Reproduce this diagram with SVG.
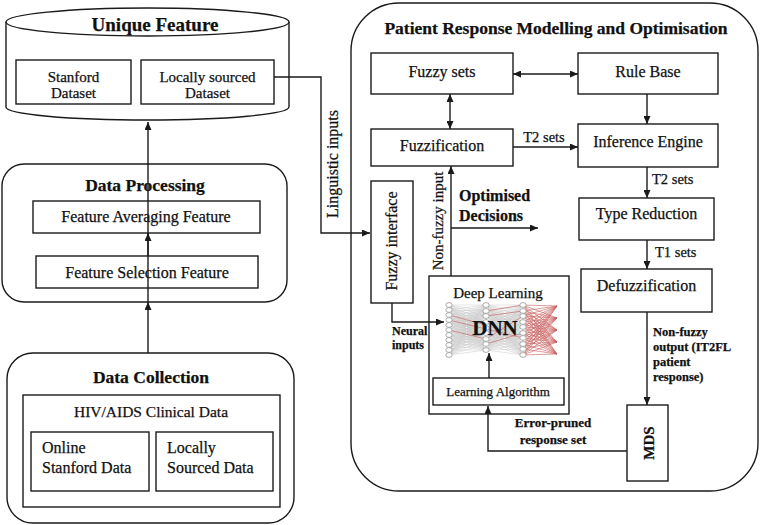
<svg xmlns="http://www.w3.org/2000/svg" width="761" height="525" viewBox="0 0 761 525">
<defs>
<style>
.b{fill:#fff;stroke:#1a1a1a;stroke-width:1.4}
.t{font-family:"Liberation Serif","Times New Roman",serif;fill:#111;stroke:#111;stroke-width:0.25}
.m{text-anchor:middle}
.bd{font-weight:bold}
.c{fill:none;stroke:#1a1a1a;stroke-width:1.4}
.g{fill:none;stroke:#c8c8c8;stroke-width:0.5}
.r{fill:none;stroke:#c85a5a;stroke-width:0.6}
.n{fill:#fff;stroke:#8a8a8a;stroke-width:0.7}
</style>
<marker id="ah" viewBox="0 0 8 7" refX="8" refY="3.5" markerWidth="8" markerHeight="7" markerUnits="userSpaceOnUse" orient="auto-start-reverse"><path d="M0,0L8,3.5L0,7z" fill="#1a1a1a"/></marker>
</defs>
<rect width="761" height="525" fill="#fff"/>

<!-- Unique Feature cylinder -->
<g id="unique-feature">
<path class="b" d="M6,22V107A141.5,13 0 0 0 289,107V22"/>
<ellipse class="b" cx="147.5" cy="22" rx="141.5" ry="14"/>
<text class="t m bd" x="155" y="31" font-size="19">Unique Feature</text>
<rect class="b" x="16" y="60" width="115" height="44"/>
<text class="t m" x="73.5" y="82" font-size="15">Stanford</text>
<text class="t m" x="73.5" y="98" font-size="15">Dataset</text>
<rect class="b" x="141" y="60" width="133" height="44"/>
<text class="t m" x="207.5" y="82" font-size="15">Locally sourced</text>
<text class="t m" x="207.5" y="98" font-size="15">Dataset</text>
</g>

<!-- Data Processing -->
<g id="data-processing">
<rect class="b" x="2" y="164" width="285" height="138" rx="22"/>
<text class="t m bd" x="145" y="191" font-size="17.5">Data Processing</text>
<rect class="b" x="33" y="201" width="227" height="32"/>
<text class="t m" x="146" y="222" font-size="16">Feature Averaging Feature</text>
<rect class="b" x="36" y="256" width="222" height="32"/>
<text class="t m" x="147" y="278" font-size="16">Feature Selection Feature</text>
</g>

<!-- Data Collection -->
<g id="data-collection">
<rect class="b" x="7" y="353" width="287" height="170" rx="26"/>
<text class="t m bd" x="151" y="383" font-size="17.5">Data Collection</text>
<rect class="b" x="23" y="395" width="257" height="112"/>
<text class="t m" x="151" y="417" font-size="15.5">HIV/AIDS Clinical Data</text>
<rect class="b" x="31" y="432" width="118" height="59"/>
<text class="t" x="42" y="453" font-size="16">Online</text>
<text class="t" x="42" y="473" font-size="16">Stanford Data</text>
<rect class="b" x="156" y="432" width="117" height="59"/>
<text class="t" x="167" y="453" font-size="16">Locally</text>
<text class="t" x="167" y="473" font-size="16">Sourced Data</text>
</g>

<!-- Patient Response Modelling container -->
<g id="patient-response">
<rect class="b" x="351" y="3" width="407" height="488" rx="48"/>
<text class="t m bd" x="556" y="34" font-size="17.5">Patient Response Modelling and Optimisation</text>
</g>

<g id="fuzzy-sets">
<rect class="b" x="371" y="53" width="142" height="41"/>
<text class="t m" x="442" y="77" font-size="16">Fuzzy sets</text>
</g>
<g id="rule-base">
<rect class="b" x="578" y="53" width="140" height="41"/>
<text class="t m" x="648" y="77" font-size="16">Rule Base</text>
</g>
<g id="fuzzification">
<rect class="b" x="371" y="129" width="142" height="37"/>
<text class="t m" x="442" y="151" font-size="16">Fuzzification</text>
</g>
<g id="inference-engine">
<rect class="b" x="578" y="124" width="140" height="43"/>
<text class="t m" x="648" y="147" font-size="16">Inference Engine</text>
</g>
<g id="type-reduction">
<rect class="b" x="579" y="198" width="135" height="42"/>
<text class="t m" x="646.5" y="219" font-size="16">Type Reduction</text>
</g>
<g id="defuzzification">
<rect class="b" x="581" y="269" width="131" height="43"/>
<text class="t m" x="646.5" y="291" font-size="16">Defuzzification</text>
</g>
<g id="mds">
<rect class="b" x="627" y="405" width="41" height="76"/>
<text class="t m bd" transform="translate(654,443) rotate(-90)" font-size="15">MDS</text>
</g>
<g id="fuzzy-interface">
<rect class="b" x="371" y="181" width="42" height="122"/>
<text class="t m" transform="translate(397,241) rotate(-90)" font-size="16">Fuzzy interface</text>
</g>

<g id="deep-learning">
<rect class="b" x="429" y="276" width="140" height="138"/>
<text class="t m" x="498" y="298" font-size="15">Deep Learning</text>
<path class="g" d="M486 305 449 305M486 305 449 310M486 305 449 315M486 305 449 320M486 305 449 325M486 305 449 330M486 305 449 335M486 305 449 340M486 305 449 345M486 305 449 350M486 305 449 355
M486 311 449 305M486 311 449 310M486 311 449 315M486 311 449 320M486 311 449 325M486 311 449 330M486 311 449 335M486 311 449 340M486 311 449 345M486 311 449 350M486 311 449 355
M486 316 449 305M486 316 449 310M486 316 449 315M486 316 449 320M486 316 449 325M486 316 449 330M486 316 449 335M486 316 449 340M486 316 449 345M486 316 449 350M486 316 449 355
M486 322 449 305M486 322 449 310M486 322 449 315M486 322 449 320M486 322 449 325M486 322 449 330M486 322 449 335M486 322 449 340M486 322 449 345M486 322 449 350M486 322 449 355
M486 328 449 305M486 328 449 310M486 328 449 315M486 328 449 320M486 328 449 325M486 328 449 330M486 328 449 335M486 328 449 340M486 328 449 345M486 328 449 350M486 328 449 355
M486 333 449 305M486 333 449 310M486 333 449 315M486 333 449 320M486 333 449 325M486 333 449 330M486 333 449 335M486 333 449 340M486 333 449 345M486 333 449 350M486 333 449 355
M486 339 449 305M486 339 449 310M486 339 449 315M486 339 449 320M486 339 449 325M486 339 449 330M486 339 449 335M486 339 449 340M486 339 449 345M486 339 449 350M486 339 449 355
M486 344 449 305M486 344 449 310M486 344 449 315M486 344 449 320M486 344 449 325M486 344 449 330M486 344 449 335M486 344 449 340M486 344 449 345M486 344 449 350M486 344 449 355
M486 350 449 305M486 350 449 310M486 350 449 315M486 350 449 320M486 350 449 325M486 350 449 330M486 350 449 335M486 350 449 340M486 350 449 345M486 350 449 350M486 350 449 355
M486 305 523 305M486 305 523 311M486 305 523 316M486 305 523 322M486 305 523 327M486 305 523 333M486 305 523 338M486 305 523 344M486 305 523 349M486 305 523 355
M486 311 523 305M486 311 523 311M486 311 523 316M486 311 523 322M486 311 523 327M486 311 523 333M486 311 523 338M486 311 523 344M486 311 523 349M486 311 523 355
M486 316 523 305M486 316 523 311M486 316 523 316M486 316 523 322M486 316 523 327M486 316 523 333M486 316 523 338M486 316 523 344M486 316 523 349M486 316 523 355
M486 322 523 305M486 322 523 311M486 322 523 316M486 322 523 322M486 322 523 327M486 322 523 333M486 322 523 338M486 322 523 344M486 322 523 349M486 322 523 355
M486 328 523 305M486 328 523 311M486 328 523 316M486 328 523 322M486 328 523 327M486 328 523 333M486 328 523 338M486 328 523 344M486 328 523 349M486 328 523 355
M486 333 523 305M486 333 523 311M486 333 523 316M486 333 523 322M486 333 523 327M486 333 523 333M486 333 523 338M486 333 523 344M486 333 523 349M486 333 523 355
M486 339 523 305M486 339 523 311M486 339 523 316M486 339 523 322M486 339 523 327M486 339 523 333M486 339 523 338M486 339 523 344M486 339 523 349M486 339 523 355
M486 344 523 305M486 344 523 311M486 344 523 316M486 344 523 322M486 344 523 327M486 344 523 333M486 344 523 338M486 344 523 344M486 344 523 349M486 344 523 355
M486 350 523 305M486 350 523 311M486 350 523 316M486 350 523 322M486 350 523 327M486 350 523 333M486 350 523 338M486 350 523 344M486 350 523 349M486 350 523 355"/>
<path class="r" d="M449 315 486 325M449 320 523 338M486 311 523 305M486 316 523 311M486 339 523 316M486 344 523 333M449 330 486 339
M523 305 557 306M523 305 557 318M523 305 557 330M523 305 557 342M523 305 557 354
M523 311 557 306M523 311 557 318M523 311 557 330M523 311 557 342M523 311 557 354
M523 316 557 306M523 316 557 318M523 316 557 330M523 316 557 342M523 316 557 354
M523 322 557 306M523 322 557 318M523 322 557 330M523 322 557 342M523 322 557 354
M523 327 557 306M523 327 557 318M523 327 557 330M523 327 557 342M523 327 557 354
M523 333 557 306M523 333 557 318M523 333 557 330M523 333 557 342M523 333 557 354
M523 338 557 306M523 338 557 318M523 338 557 330M523 338 557 342M523 338 557 354
M523 344 557 306M523 344 557 318M523 344 557 330M523 344 557 342M523 344 557 354
M523 349 557 306M523 349 557 318M523 349 557 330M523 349 557 342M523 349 557 354
M523 355 557 306M523 355 557 318M523 355 557 330M523 355 557 342M523 355 557 354"/>
<g class="n">
<ellipse cx="449" cy="305" rx="3.2" ry="2.4"/><ellipse cx="449" cy="310" rx="3.2" ry="2.4"/><ellipse cx="449" cy="315" rx="3.2" ry="2.4"/><ellipse cx="449" cy="320" rx="3.2" ry="2.4"/><ellipse cx="449" cy="325" rx="3.2" ry="2.4"/><ellipse cx="449" cy="330" rx="3.2" ry="2.4"/><ellipse cx="449" cy="335" rx="3.2" ry="2.4"/><ellipse cx="449" cy="340" rx="3.2" ry="2.4"/><ellipse cx="449" cy="345" rx="3.2" ry="2.4"/><ellipse cx="449" cy="350" rx="3.2" ry="2.4"/><ellipse cx="449" cy="355" rx="3.2" ry="2.4"/>
<ellipse cx="486" cy="305" rx="3.2" ry="2.4"/><ellipse cx="486" cy="311" rx="3.2" ry="2.4"/><ellipse cx="486" cy="316" rx="3.2" ry="2.4"/><ellipse cx="486" cy="322" rx="3.2" ry="2.4"/><ellipse cx="486" cy="328" rx="3.2" ry="2.4"/><ellipse cx="486" cy="333" rx="3.2" ry="2.4"/><ellipse cx="486" cy="339" rx="3.2" ry="2.4"/><ellipse cx="486" cy="344" rx="3.2" ry="2.4"/><ellipse cx="486" cy="350" rx="3.2" ry="2.4"/>
<ellipse cx="523" cy="305" rx="3.2" ry="2.4"/><ellipse cx="523" cy="311" rx="3.2" ry="2.4"/><ellipse cx="523" cy="316" rx="3.2" ry="2.4"/><ellipse cx="523" cy="322" rx="3.2" ry="2.4"/><ellipse cx="523" cy="327" rx="3.2" ry="2.4"/><ellipse cx="523" cy="333" rx="3.2" ry="2.4"/><ellipse cx="523" cy="338" rx="3.2" ry="2.4"/><ellipse cx="523" cy="344" rx="3.2" ry="2.4"/><ellipse cx="523" cy="349" rx="3.2" ry="2.4"/><ellipse cx="523" cy="355" rx="3.2" ry="2.4"/>
</g>
<text class="t m bd" x="495" y="335" font-size="21">DNN</text>
</g>
<g id="learning-algorithm">
<rect class="b" x="433" y="378" width="131" height="27"/>
<text class="t m" x="498" y="396" font-size="13">Learning Algorithm</text>
</g>

<!-- connectors -->
<g id="connectors">
<path class="c" d="M148,302V122" marker-end="url(#ah)"/>
<path class="c" d="M148,353V302" marker-end="url(#ah)"/>
<path class="c" d="M148,256V233" marker-end="url(#ah)"/>
<path class="c" d="M274,77H321V233H370" marker-end="url(#ah)"/>
<path class="c" d="M513,74H578" marker-start="url(#ah)" marker-end="url(#ah)"/>
<path class="c" d="M450,94V129" marker-start="url(#ah)" marker-end="url(#ah)"/>
<path class="c" d="M647,94V124" marker-end="url(#ah)"/>
<path class="c" d="M513,147H578" marker-end="url(#ah)"/>
<path class="c" d="M647,167V198" marker-end="url(#ah)"/>
<path class="c" d="M647,240V269" marker-end="url(#ah)"/>
<path class="c" d="M647,312V405" marker-end="url(#ah)"/>
<path class="c" d="M627,451H488V406" marker-end="url(#ah)"/>
<path class="c" d="M489,378V353" marker-end="url(#ah)"/>
<path class="c" d="M392,303V322H444" marker-end="url(#ah)"/>
<path class="c" d="M451,276V166" marker-end="url(#ah)"/>
<path class="c" d="M451,228H538" marker-end="url(#ah)"/>
<text class="t m" transform="translate(338,164) rotate(-90)" font-size="16">Linguistic inputs</text>
<text class="t m" x="544" y="142" font-size="14.5">T2 sets</text>
<text class="t" x="652" y="184" font-size="14.5">T2 sets</text>
<text class="t" x="655" y="257" font-size="14.5">T1 sets</text>
<text class="t m" transform="translate(443,221) rotate(-90)" font-size="15">Non-fuzzy input</text>
<text class="t bd" x="459" y="201" font-size="16">Optimised</text>
<text class="t bd" x="459" y="221" font-size="16">Decisions</text>
<text class="t bd" x="392" y="335" font-size="12">Neural</text>
<text class="t bd" x="392" y="349" font-size="12">inputs</text>
<text class="t bd" x="653" y="336" font-size="12.5">Non-fuzzy</text>
<text class="t bd" x="653" y="351" font-size="12.5">output (IT2FL</text>
<text class="t bd" x="653" y="366" font-size="12.5">patient</text>
<text class="t bd" x="653" y="381" font-size="12.5">response)</text>
<text class="t m bd" x="553" y="427" font-size="13">Error-pruned</text>
<text class="t m bd" x="553" y="444" font-size="13">response set</text>
</g>
</svg>
